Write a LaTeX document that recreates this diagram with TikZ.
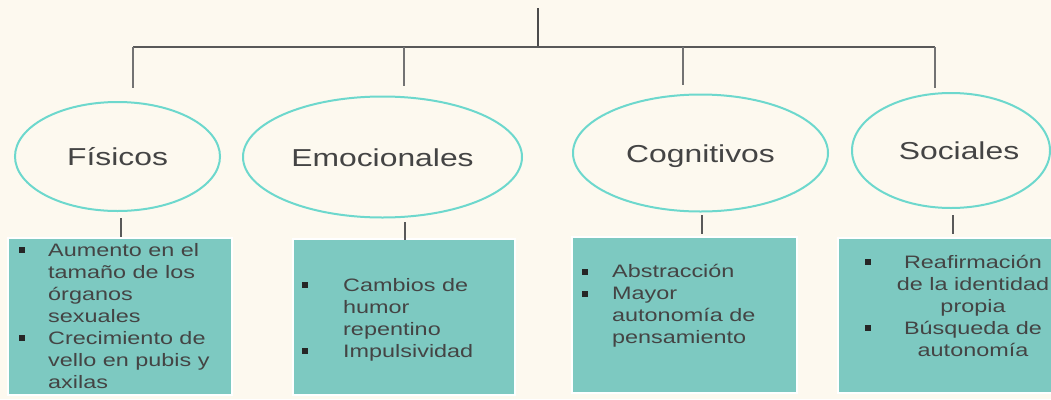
\documentclass[tikz,border=0pt]{standalone}
\usepackage{fontspec}
\setmainfont{Liberation Sans}[FakeStretch=1.3]
\usetikzlibrary{shapes.geometric}
\definecolor{bgc}{HTML}{FDF9EF}
\definecolor{teal1}{HTML}{7DC9C1}
\definecolor{ring}{HTML}{6DD8CD}
\definecolor{ink}{HTML}{444444}
\definecolor{conn}{HTML}{666666}
\begin{document}
\begin{tikzpicture}[x=1pt,y=-1pt,
  connline/.style={draw=conn, line width=1.6pt},
  oval/.style={ellipse, draw=ring, line width=2pt, inner sep=0pt, text=ink,
    font=\fontsize{24.5}{28}\selectfont, text height=18pt, text depth=0pt},
  tealbox/.style={rectangle, fill=teal1, draw=white, line width=1.6pt, inner sep=0pt},
  boxtxt/.style={inner sep=0pt, text=ink, font=\fontsize{18}{22}\selectfont},
  bul/.style={rectangle, fill=black!85, minimum size=6pt, inner sep=0pt}]
\useasboundingbox (0,0) rectangle (1051,399);
\fill[bgc] (0,0) rectangle (1051,399);
\clip (0,0) rectangle (1051,399);

% ovals
\node[oval, minimum width=205pt, minimum height=109pt] (fis) at (117.5,156.5) {Físicos};
\node[oval, minimum width=279pt, minimum height=121pt] (emo) at (382.5,157) {Emocionales};
\node[oval, minimum width=255pt, minimum height=117pt] (cog) at (700.5,153) {Cognitivos};
\node[oval, minimum width=198pt, minimum height=115pt] (soc) at (951,150.5) {\hspace*{16pt}Sociales};

% tree connectors
\coordinate (root) at (538,8);
\coordinate (hub) at (538,47);
\coordinate (d1) at (133,47);
\coordinate (d2) at (404,47);
\coordinate (d3) at (683,47);
\coordinate (d4) at (935,47);
\coordinate (e1) at (133,88);
\coordinate (e2) at (404,86);
\coordinate (e3) at (683,85);
\coordinate (e4) at (935,88);
\draw[connline, draw=black!70, line width=2pt] (root) -- (hub);
\draw[connline, draw=black!65] (d1) -- (d4);
\draw[connline, draw=black!55] (d1) -- (e1);
\draw[connline, draw=black!55] (d2) -- (e2);
\draw[connline, draw=black!55] (d3) -- (e3);
\draw[connline, draw=black!55] (d4) -- (e4);

% boxes
\node[tealbox, minimum width=224pt, minimum height=157pt] (box1) at (120,316.5) {};
\node[tealbox, minimum width=222pt, minimum height=156pt] (box2) at (404,317) {};
\node[tealbox, minimum width=225pt, minimum height=156pt] (box3) at (684.5,315) {};
\node[tealbox, minimum width=227pt, minimum height=155pt] (box4) at (951.5,315.5) {};

% short connectors oval -> box
\coordinate (g1) at (121,218);
\coordinate (h1) at (121,237);
\coordinate (g2) at (405,222);
\coordinate (h2) at (405,240);
\coordinate (g3) at (702,215);
\coordinate (h3) at (702,234);
\coordinate (g4) at (953,215);
\coordinate (h4) at (953,234);
\draw[connline, draw=black!65] (g1) -- (h1);
\draw[connline, draw=black!65] (g2) -- (h2);
\draw[connline, draw=black!65] (g3) -- (h3);
\draw[connline, draw=black!65] (g4) -- (h4);

% box texts
\node[boxtxt, align=left, anchor=north west] (t1) at (48,238)
  {\rule{0pt}{18pt}Aumento en el\\tamaño de los\\órganos\\sexuales\\Crecimiento de\\vello en pubis y\\axilas};
\node[bul] (b1a) at (21.5,250) {};
\node[bul] (b1b) at (21.5,338) {};

\node[boxtxt, align=left, anchor=north west] (t2) at (343,273)
  {\rule{0pt}{18pt}Cambios de\\humor\\repentino\\Impulsividad};
\node[bul] (b2a) at (305,285) {};
\node[bul] (b2b) at (305,351) {};

\node[boxtxt, align=left, anchor=north west] (t3) at (612,259.5)
  {\rule{0pt}{18pt}Abstracción\\Mayor\\autonomía de\\pensamiento};
\node[bul] (b3a) at (585,271.5) {};
\node[bul] (b3b) at (585,293.5) {};

\node[boxtxt, align=center, anchor=north] (t4) at (973,250)
  {\rule{0pt}{18pt}Reafirmación\\de la identidad\\propia\\Búsqueda de\\autonomía};
\node[bul] (b4a) at (868,262) {};
\node[bul] (b4b) at (868,328) {};
\end{tikzpicture}
\end{document}
